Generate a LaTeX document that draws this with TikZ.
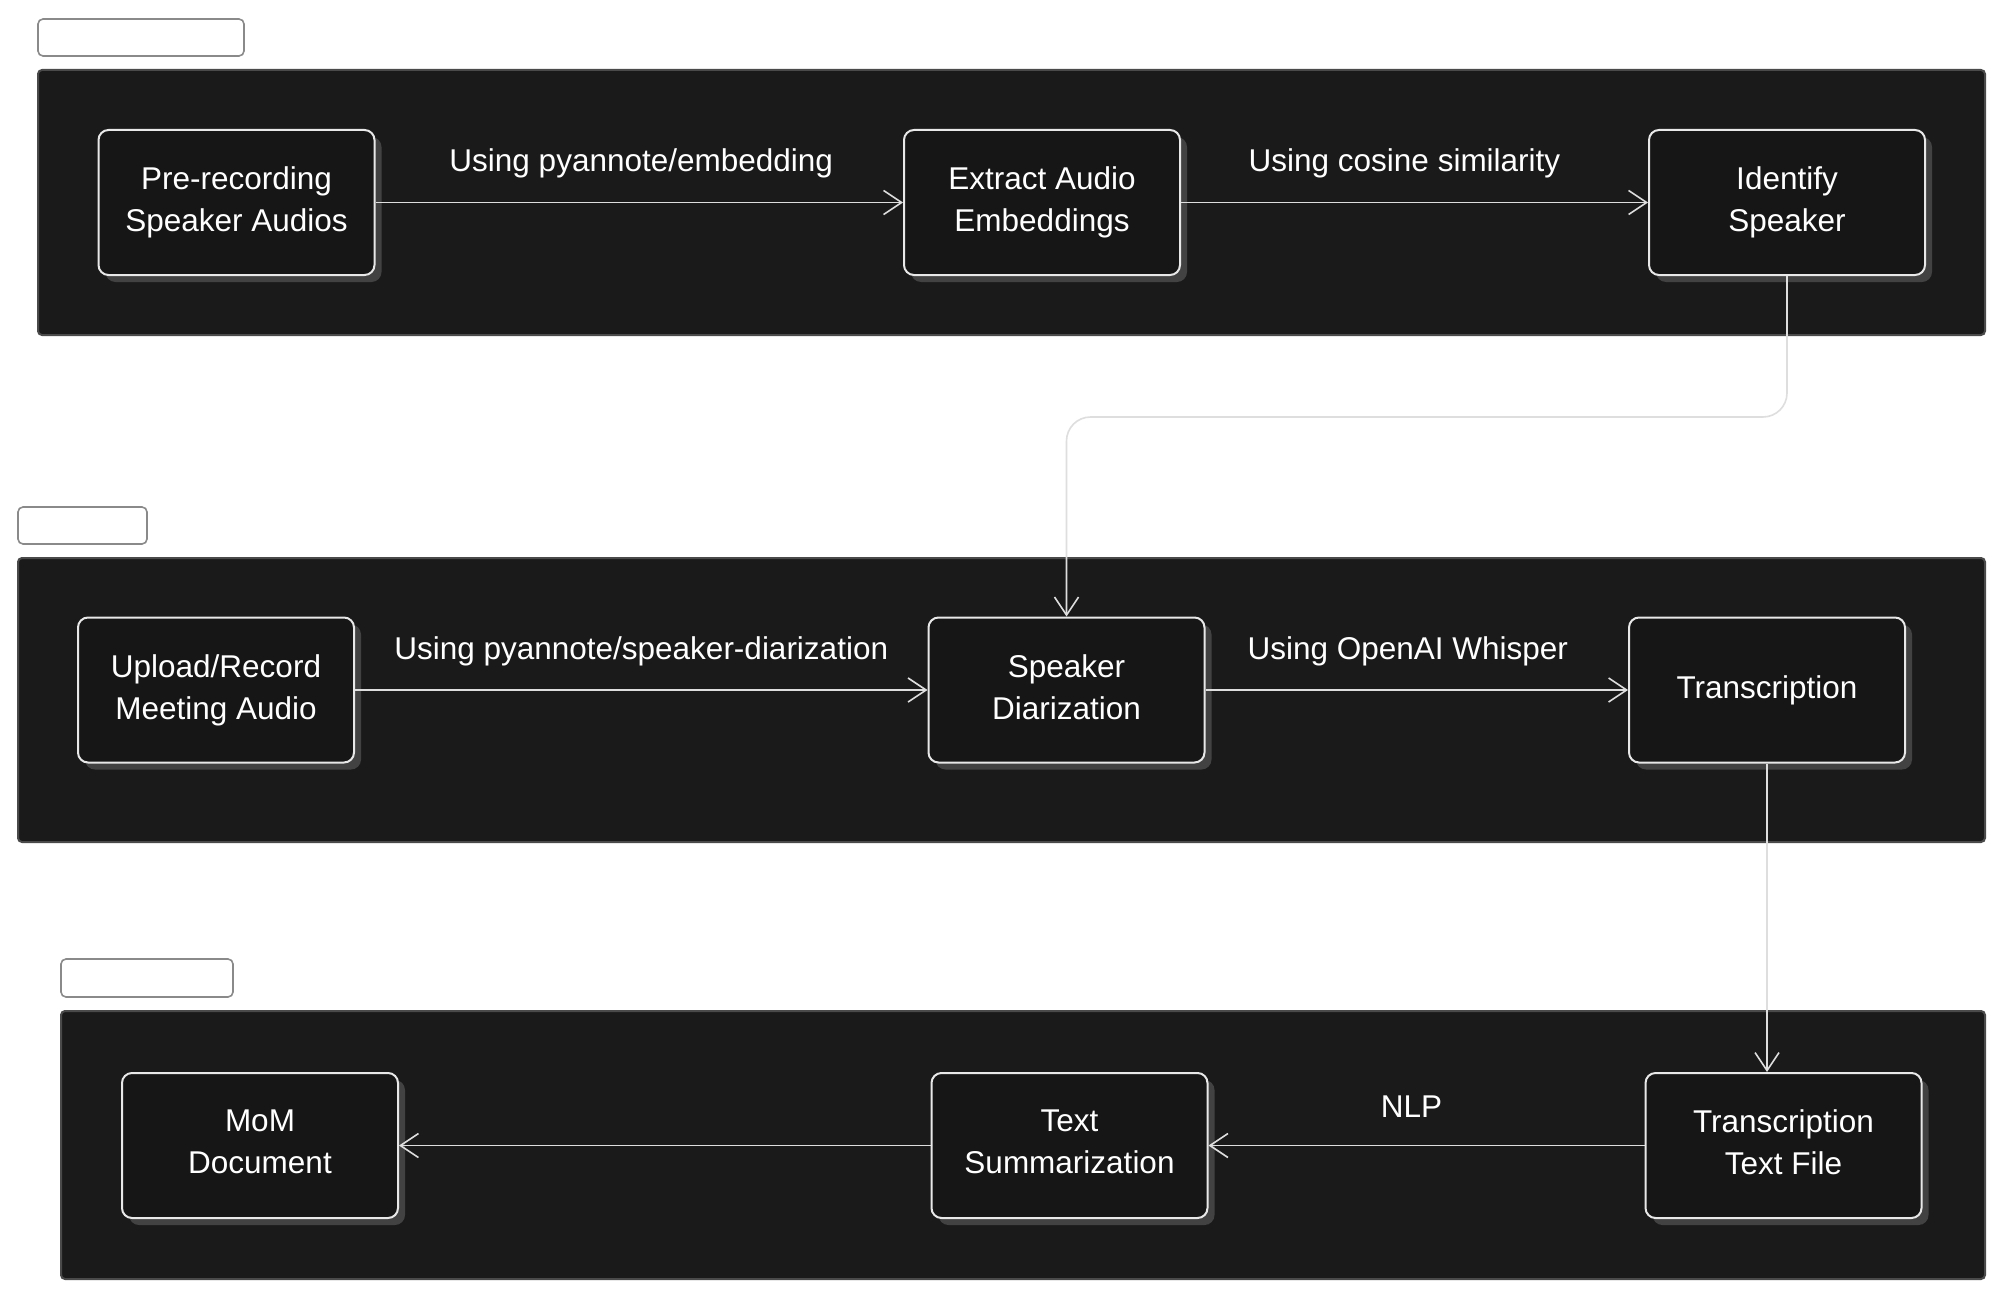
\documentclass[tikz,border=0pt]{standalone}
\usepackage{fontspec}
\setmainfont{Liberation Sans}
\usetikzlibrary{arrows.meta,fit,shadows}
\definecolor{clusterbg}{HTML}{1A1A1A}
\definecolor{clusterline}{HTML}{4A4A4A}
\definecolor{nodebg}{HTML}{161616}
\definecolor{nodeline}{HTML}{E8E8E8}
\definecolor{shadowgray}{HTML}{424242}
\definecolor{edgecol}{HTML}{DEDEDE}
\definecolor{tagline}{HTML}{8A8A8A}
\tikzset{
  cluster/.style={draw=clusterline, line width=1pt, fill=clusterbg, rounded corners=2pt, inner sep=0pt},
  tagbox/.style={draw=tagline, line width=0.8pt, fill=white, rounded corners=2.5pt, inner sep=0pt},
  stepbox/.style={draw=nodeline, line width=1pt, fill=nodebg, rounded corners=5pt,
    minimum width=138pt, minimum height=72.5pt, align=center, text=white,
    font=\fontsize{15.75}{21}\selectfont, text depth=3.4pt,
    drop shadow={shadow xshift=3.5pt, shadow yshift=-3.5pt, fill=shadowgray, opacity=1}},
  flow/.style={draw=edgecol, line width=0.8pt, -{Straight Barb[length=9pt,width=12pt,line width=0.8pt]}},
  edgelabel/.style={text=white, font=\fontsize{15.75}{18}\selectfont, yshift=19.5pt}
}
\begin{document}
\begin{tikzpicture}[x=0.5pt,y=-0.5pt]
\useasboundingbox[fill=white] (0,0) rectangle (2006,1300);
% tags
\node[tagbox, fit={(38,19) (244,56)}] (tag1) {};
\node[tagbox, fit={(18,507) (147,544)}] (tag2) {};
\node[tagbox, fit={(61,959) (233,997)}] (tag3) {};
% clusters
\node[cluster, fit={(38,70) (1985,335)}] (c1) {};
\node[cluster, fit={(18,558) (1985,842)}] (c2) {};
\node[cluster, fit={(61,1011) (1985,1279)}] (c3) {};
% nodes
\node[stepbox] (pre) at (236.5,202.5) {Pre-recording\\Speaker Audios};
\node[stepbox] (ext) at (1042,202.5) {Extract Audio\\Embeddings};
\node[stepbox] (ide) at (1787,202.5) {Identify\\Speaker};
\node[stepbox] (upl) at (216,690) {Upload/Record\\Meeting Audio};
\node[stepbox] (dia) at (1066.5,690) {Speaker\\Diarization};
\node[stepbox] (tra) at (1767,690) {Transcription};
\node[stepbox] (mom) at (260,1145.5) {MoM\\Document};
\node[stepbox] (sum) at (1069.5,1145.5) {Text\\Summarization};
\node[stepbox] (ttf) at (1783.5,1145.5) {Transcription\\Text File};
% edges
\draw[flow] (pre) -- node[edgelabel, xshift=1pt] {Using pyannote/embedding} (ext);
\draw[flow] (ext) -- node[edgelabel, xshift=-5pt] {Using cosine similarity} (ide);
\draw[flow, rounded corners=12pt] (ide.south) -- (1787,417) -- (1066.5,417) -- (dia.north);
\draw[flow] (upl) -- node[edgelabel] {Using pyannote/speaker-diarization} (dia);
\draw[flow] (dia) -- node[edgelabel, xshift=-4.5pt] {Using OpenAI Whisper} (tra);
\draw[flow] (tra.south) -- (tra.south |- ttf.north);
\draw[flow] (ttf) -- node[edgelabel, xshift=-7.5pt] {NLP} (sum);
\draw[flow] (sum) -- (mom);
\end{tikzpicture}
\end{document}
